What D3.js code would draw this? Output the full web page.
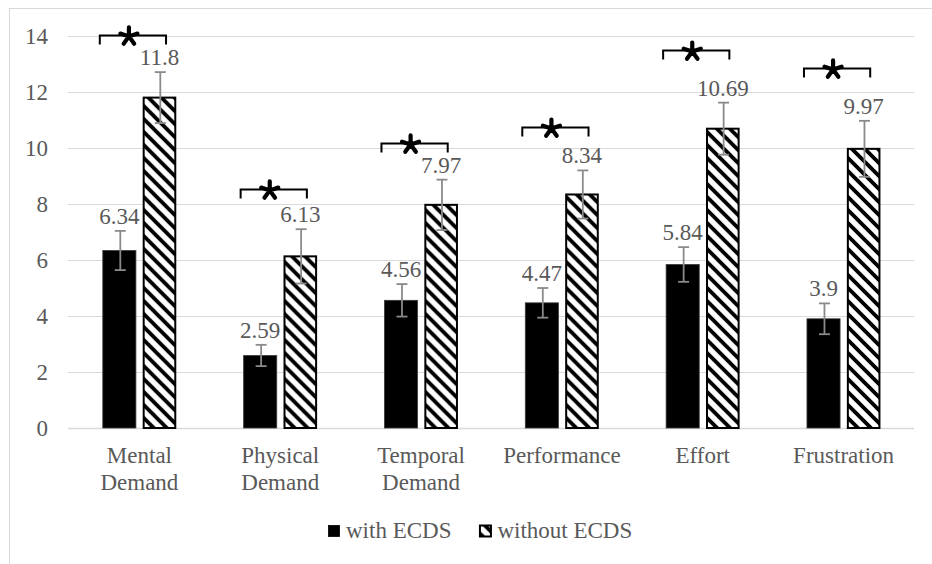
<!DOCTYPE html>
<html>
<head>
<meta charset="utf-8">
<script src="https://cdn.jsdelivr.net/npm/d3@7"></script>
<style>
  html, body { margin: 0; padding: 0; background: #fff; }
  svg text { font-family: "Liberation Serif", "Times New Roman", Times, serif; }
</style>
</head>
<body>
<div id="chart"></div>
<script>
// NASA-TLX subscales, with vs without ECDS
const categories = [["Mental", "Demand"], ["Physical", "Demand"], ["Temporal", "Demand"],
                    ["Performance"], ["Effort"], ["Frustration"]];
const seriesNames = ["with ECDS", "without ECDS"];
const withECDS = [6.34, 2.59, 4.56, 4.47, 5.84, 3.9];
const withoutECDS = [11.8, 6.13, 7.97, 8.34, 10.69, 9.97];
const withErr = [0.7, 0.38, 0.58, 0.53, 0.62, 0.55];
const withoutErr = [0.91, 0.97, 0.9, 0.86, 0.93, 1.0];
// height (in axis units) of each significance bracket
const sigLevel = [14.04, 8.54, 10.18, 10.75, 13.5, 12.86];
const yTicks = [0, 2, 4, 6, 8, 10, 12, 14];

const W = 932, H = 564;
const FS = 23;
const textColor = "#595959";
const gridColor = "#d9d9d9";

const svg = d3.select("#chart").append("svg")
  .attr("width", W).attr("height", H);

// stripe pattern for the "without" bars
const defs = svg.append("defs");
const pat = defs.append("pattern")
  .attr("id", "hatch")
  .attr("patternUnits", "userSpaceOnUse")
  .attr("width", 13).attr("height", 13);
pat.append("rect").attr("width", 13).attr("height", 13).attr("fill", "#fff");
pat.append("path")
  .attr("d", "M0,0L13,13M-13,0L13,26M0,-13L26,13")
  .attr("stroke", "#000").attr("stroke-width", 3.8);

// outer chart border
svg.append("rect")
  .attr("x", 9.5).attr("y", 8.5)
  .attr("width", W + 20).attr("height", H + 20)
  .attr("fill", "none").attr("stroke", gridColor);

const plot = { left: 69, right: 914, top: 36, bottom: 428 };

const x0 = d3.scaleBand()
  .domain(d3.range(categories.length))
  .range([plot.left, plot.right])
  .paddingInner(0.48).paddingOuter(0.24);
const x1 = d3.scaleBand()
  .domain(seriesNames)
  .range([0, x0.bandwidth()])
  .paddingInner(0.175);
const y = d3.scaleLinear().domain([0, 14]).range([plot.bottom, plot.top]);

// gridlines
svg.append("g")
  .selectAll("line")
  .data(yTicks)
  .join("line")
  .attr("x1", plot.left - 1).attr("x2", plot.right)
  .attr("y1", d => Math.round(y(d)) + 0.5).attr("y2", d => Math.round(y(d)) + 0.5)
  .attr("stroke", gridColor).attr("stroke-width", d => d === 0 ? 1.5 : 1);

// y axis labels
const yAxis = svg.append("g")
  .attr("transform", `translate(${plot.left - 21},0)`)
  .call(d3.axisLeft(y).tickValues(yTicks).tickSize(0).tickPadding(0));
yAxis.select(".domain").remove();
yAxis.attr("font-family", null).attr("font-size", null);
yAxis.selectAll("text")
  .attr("font-size", FS).attr("fill", textColor)
  .attr("dy", "0.32em");

// category labels
const catG = svg.append("g")
  .selectAll("text")
  .data(categories)
  .join("text")
  .attr("x", (d, i) => x0(i) + x0.bandwidth() / 2)
  .attr("y", plot.bottom + 35)
  .attr("text-anchor", "middle")
  .attr("font-size", FS).attr("fill", textColor);
catG.selectAll("tspan")
  .data(d => d)
  .join("tspan")
  .attr("x", function () { return this.parentNode.getAttribute("x"); })
  .attr("dy", (d, i) => i === 0 ? 0 : 27)
  .text(d => d);

const rows = categories.map((c, i) => ({
  i,
  bars: [
    { s: seriesNames[0], v: withECDS[i], e: withErr[i] },
    { s: seriesNames[1], v: withoutECDS[i], e: withoutErr[i] }
  ]
}));

const groups = svg.append("g")
  .selectAll("g")
  .data(rows)
  .join("g")
  .attr("transform", d => `translate(${x0(d.i)},0)`);

// bars
groups.selectAll("rect")
  .data(d => d.bars)
  .join("rect")
  .attr("x", d => x1(d.s) + (d.s === seriesNames[1] ? 0.75 : 0))
  .attr("width", d => x1.bandwidth() - (d.s === seriesNames[1] ? 1.5 : 0))
  .attr("y", d => y(d.v))
  .attr("height", d => y(0) - y(d.v))
  .attr("fill", d => d.s === seriesNames[0] ? "#000" : "url(#hatch)")
  .attr("stroke", d => d.s === seriesNames[0] ? "#3a3a3a" : "#000")
  .attr("stroke-width", d => d.s === seriesNames[0] ? 0.8 : 2);

// error bars
const errG = groups.selectAll("g.err")
  .data(d => d.bars)
  .join("g").attr("class", "err")
  .attr("transform", d => `translate(${Math.round(x1(d.s) + x1.bandwidth() / 2) + 0.5},0)`)
  .attr("stroke", "#8a8a8a").attr("stroke-width", 1.8);
errG.append("line")
  .attr("y1", d => y(d.v + d.e)).attr("y2", d => y(d.v - d.e));
errG.append("line")
  .attr("x1", -5.5).attr("x2", 5.5)
  .attr("y1", d => y(d.v + d.e)).attr("y2", d => y(d.v + d.e));
errG.append("line")
  .attr("x1", -5.5).attr("x2", 5.5)
  .attr("y1", d => y(d.v - d.e)).attr("y2", d => y(d.v - d.e));

// value labels
groups.selectAll("text.val")
  .data(d => d.bars)
  .join("text").attr("class", "val")
  .attr("x", d => x1(d.s) + x1.bandwidth() / 2)
  .attr("y", d => y(d.v + d.e) - 7)
  .attr("text-anchor", "middle")
  .attr("font-size", FS).attr("fill", textColor)
  .text(d => d.v);

// significance brackets with a five-armed asterisk
const starArms = d3.range(5).map(k => -90 + k * 72);
const starPath = starArms.map(a => {
  const r = a * Math.PI / 180;
  return `M0,0L${(9 * Math.cos(r)).toFixed(2)},${(9 * Math.sin(r)).toFixed(2)}`;
}).join("");

const sig = groups.append("g");
sig.append("path")
  .attr("d", d => {
    const yy = Math.round(y(sigLevel[d.i])) + 0.5;
    const xa = -3, xb = x0.bandwidth() - 10;
    return `M${xa},${yy + 9}V${yy}H${xb}V${yy + 9}`;
  })
  .attr("fill", "none").attr("stroke", "#000").attr("stroke-width", 2);
sig.append("path")
  .attr("transform", d => `translate(${(x0.bandwidth() - 13) / 2 - 4},${y(sigLevel[d.i]) + 1.5})`)
  .attr("d", starPath)
  .attr("fill", "none").attr("stroke", "#000")
  .attr("stroke-width", 4.2).attr("stroke-linecap", "round");

// legend
const leg = svg.append("g").attr("transform", "translate(328,0)");
let lx = 0;
seriesNames.forEach((name, i) => {
  const g = leg.append("g").attr("transform", `translate(${lx},0)`);
  g.append("rect")
    .attr("x", 0.5).attr("y", 525.5)
    .attr("width", 11).attr("height", 11)
    .attr("fill", i === 0 ? "#000" : "url(#hatch)")
    .attr("stroke", "#000").attr("stroke-width", i === 0 ? 0.8 : 2);
  const t = g.append("text")
    .attr("x", 18).attr("y", 538)
    .attr("font-size", FS).attr("fill", textColor)
    .text(name);
  lx += 18 + t.node().getComputedTextLength() + 28;
});
</script>
</body>
</html>
